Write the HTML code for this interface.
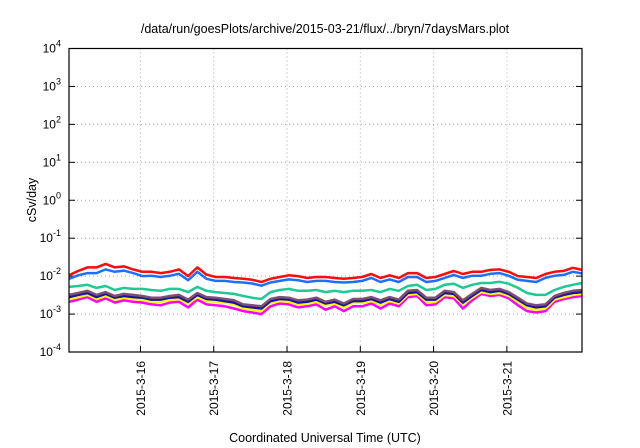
<!DOCTYPE html>
<html><head><meta charset="utf-8"><style>
html,body{margin:0;padding:0;background:#fff;}
svg{display:block;font-family:"Liberation Sans",Arial,sans-serif;}
</style></head><body>
<svg id="chart" width="640" height="448" viewBox="0 0 640 448"></svg>
<script>
const redVals=[.0105,.0137,.017,.017,.021,.017,.018,.015,.013,.013,.012,.013,.015,.010,.017,.011,.0095,.0095,.0089,.0085,.0080,.0070,.0085,.0095,.0105,.010,.0089,.0095,.0095,.0089,.0085,.0089,.0095,.0114,.0089,.0105,.0089,.012,.012,.0089,.0095,.0114,.0137,.0114,.013,.013,.0146,.015,.013,.010,.0095,.0089,.0114,.013,.0137,.0166,.0146];
const blueVals=[.0085,.0105,.012,.012,.015,.013,.014,.012,.010,.0102,.0095,.0102,.0115,.0078,.013,.0085,.0075,.0075,.007,.0068,.0064,.0056,.0068,.0075,.0082,.0078,.007,.0075,.0075,.007,.0068,.007,.0075,.009,.007,.0082,.007,.0095,.0095,.007,.0075,.009,.0108,.009,.0102,.0102,.0115,.012,.0102,.008,.0075,.007,.009,.0102,.0108,.013,.0118];
const greenVals=[.0052,.0055,.0059,.0049,.0055,.0043,.0049,.0046,.0046,.0043,.0041,.0046,.0046,.0038,.0052,.0041,.0038,.0036,.0034,.0030,.0027,.0025,.0038,.0043,.0046,.0041,.0041,.0043,.0038,.0041,.0038,.0041,.0041,.0043,.0038,.0046,.0041,.0055,.0059,.0043,.0046,.0059,.0063,.0049,.0059,.0066,.0066,.0071,.0063,.0049,.0036,.0032,.0032,.0043,.0052,.0059,.0066];
const brownVals=[.0032,.0036,.0041,.0032,.0038,.0030,.0034,.0032,.0030,.0027,.0027,.0030,.0032,.0024,.0036,.0028,.0027,.0025,.0023,.0018,.0017,.0016,.0025,.0028,.0027,.0023,.0024,.0027,.0021,.0024,.0019,.0025,.0025,.0028,.0023,.0028,.0024,.0041,.0043,.0027,.0027,.0041,.0038,.0023,.0034,.0049,.0043,.0046,.0038,.0027,.0019,.0017,.0018,.0030,.0036,.0041,.0043];
const navyVals=[.0028,.0032,.0036,.0028,.0034,.0027,.0030,.0028,.0027,.0024,.0024,.0027,.0028,.0021,.0032,.0025,.0024,.0022,.0020,.0016,.0015,.0014,.0022,.0025,.0024,.0020,.0021,.0024,.0019,.0021,.0017,.0022,.0022,.0025,.0020,.0025,.0021,.0036,.0038,.0024,.0024,.0036,.0034,.0020,.0030,.0043,.0038,.0041,.0034,.0024,.0017,.0015,.0016,.0027,.0032,.0036,.0038];
const yellowVals=[.0025,.0028,.0032,.0025,.0030,.0024,.0027,.0025,.0024,.0021,.0021,.0024,.0025,.0019,.0028,.0022,.0021,.0020,.0018,.0014,.0013,.0012,.0020,.0022,.0021,.0018,.0019,.0021,.0017,.0019,.0015,.0020,.0020,.0022,.0018,.0022,.0019,.0032,.0034,.0021,.0021,.0032,.0030,.0018,.0027,.0038,.0034,.0036,.0030,.0021,.0014,.0013,.0014,.0024,.0028,.0032,.0034];
const magentaVals=[.0021,.0024,.0028,.0021,.0026,.0020,.0023,.0021,.0020,.0018,.0017,.0020,.0021,.0015,.0024,.0018,.0017,.0016,.0014,.0012,.0011,.0010,.0016,.0019,.0018,.0015,.0016,.0018,.0013,.0016,.0012,.0016,.0016,.0019,.0014,.0019,.0016,.0028,.0030,.0017,.0018,.0028,.0026,.0014,.0023,.0034,.0030,.0032,.0026,.0017,.0012,.0011,.0012,.0021,.0025,.0028,.0030];
const seriesColors=["#ff00ff","#ffff00","#1414a8","#7e4f70","#1fc995","#1f6fff","#ff0a0a"];
const seriesNames=["magenta","yellow","navy","brown","green","blue","red"];
const dayLabels=["2015-3-16","2015-3-17","2015-3-18","2015-3-19","2015-3-20","2015-3-21"];
const decadeExps=[-4,-3,-2,-1,0,1,2,3,4];

const NS="http://www.w3.org/2000/svg";
const svg=document.getElementById('chart');
const L=69,R=582,T=48.5,B=352;
const t0=0.6,t1=168.6;
function xs(t){return L+(t-t0)/(t1-t0)*(R-L);}
function ys(v){return B-(Math.log10(v)+4)/8*(B-T);}
function mk(tag,attrs,parent){const e=document.createElementNS(NS,tag);for(const k in attrs)e.setAttribute(k,attrs[k]);(parent||svg).appendChild(e);return e;}

const grid=mk('g',{});


decadeExps.forEach(function(e){
  const y=ys(Math.pow(10,e));
  if(e>-4&&e<4){const g=mk('line',{x1:L,x2:R,y1:y,y2:y,stroke:'#aaa','stroke-width':1,'stroke-dasharray':'1,3'},grid);
  
  }
  const tk=mk('line',{x1:L,x2:L+6,y1:y,y2:y,stroke:'#000'});
  
  
  const tk2=mk('line',{x1:R-6,x2:R,y1:y,y2:y,stroke:'#000'});
  
  
  const tx=mk('text',{x:L-8,y:y+4,'text-anchor':'end','font-size':12,fill:'#000'});
  
  
  tx.appendChild(document.createTextNode('10'));
  const sup=mk('tspan',{dy:-6,'font-size':9},tx);sup.textContent=String(e);
});
dayLabels.forEach(function(lab,i){
  const x=xs(24*(i+1));
  const g=mk('line',{x1:x,x2:x,y1:T,y2:B,stroke:'#aaa','stroke-width':1,'stroke-dasharray':'1,3'},grid);
  
  
  const tk=mk('line',{x1:x,x2:x,y1:B,y2:B-6,stroke:'#000'});
  
  
  const tx=mk('text',{x:0,y:0,'text-anchor':'end','font-size':12,fill:'#000',transform:'translate('+(x+4.5)+','+(B+9)+') rotate(-90)'});
  
  
  tx.textContent=lab;
});
const allSeries=[magentaVals,yellowVals,navyVals,brownVals,greenVals,blueVals,redVals];
allSeries.forEach(function(vals,si){
  const pts=vals.map(function(v,i){return xs(t0+i*3).toFixed(1)+','+ys(v).toFixed(1);}).join(' ');
  const p=mk('polyline',{points:pts,fill:'none',stroke:seriesColors[si],'stroke-width':2.5,'stroke-linejoin':'round'});
  
  
});
const frame=mk('rect',{x:L,y:T,width:R-L,height:B-T,fill:'none',stroke:'#000','stroke-width':1.2});


const title=mk('text',{x:325,y:33,'text-anchor':'middle','font-size':12.5,fill:'#000'});


title.textContent='/data/run/goesPlots/archive/2015-03-21/flux/../bryn/7daysMars.plot';
const yt=mk('text',{x:0,y:0,'text-anchor':'middle','font-size':12.5,fill:'#000',transform:'translate(36,200) rotate(-90)'});


yt.textContent='cSv/day';
const xt=mk('text',{x:325,y:442,'text-anchor':'middle','font-size':12.5,fill:'#000'});


xt.textContent='Coordinated Universal Time (UTC)';
</script>
</body></html>
